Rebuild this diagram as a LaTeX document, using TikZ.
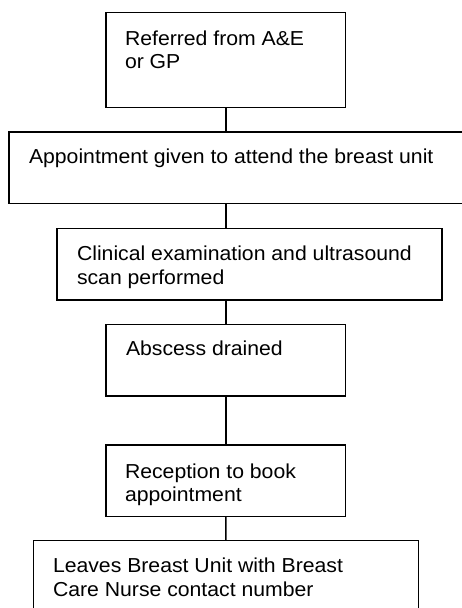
\documentclass[tikz,border=0pt]{standalone}
\usepackage{fontspec}
\setmainfont{Liberation Sans}[FakeStretch=1.05]
\begin{document}
\begin{tikzpicture}[x=1pt,y=-1pt,
  box/.style={draw, line width=1.4pt, inner sep=0pt, outer sep=0pt, anchor=north west},
  txt/.style={anchor=base west, inner sep=0pt, outer sep=0pt,
              font=\fontsize{20.2}{23.8}\selectfont},
  link/.style={line width=1.4pt}]
\useasboundingbox (0,0) rectangle (462,608);
\clip (0,0) rectangle (462,608);

% flow boxes (upper-left corner, width, height)
\node[box, minimum width=239.7pt, minimum height=95.4pt] (b1) at (106,12.3) {};
\node[box, minimum width=470pt,   minimum height=71.3pt] (b2) at (9,132) {};
\node[box, minimum width=385pt,   minimum height=71.5pt] (b3) at (57,228.5) {};
\node[box, minimum width=239.7pt, minimum height=71.5pt] (b4) at (106,324.5) {};
\node[box, minimum width=239.7pt, minimum height=71.7pt] (b5) at (106,445) {};
\node[box, minimum width=385pt,   minimum height=90pt]   (b6) at (33.3,540.5) {};

% box texts
\node[txt] (t1) at (125,45)    {\parbox[t]{300pt}{Referred from A\&E\\or GP}};
\node[txt] (t2) at (29,163.3)  {\parbox[t]{430pt}{Appointment given to attend the breast unit}};
\node[txt] (t3) at (77,260.3)  {\parbox[t]{380pt}{Clinical examination and ultrasound\\scan performed}};
\node[txt] (t4) at (126,355.3) {\parbox[t]{300pt}{Abscess drained}};
\node[txt] (t5) at (125,478)   {\parbox[t]{300pt}{Reception to book\\appointment}};
\node[txt] (t6) at (53,572.3)  {\parbox[t]{380pt}{Leaves Breast Unit with Breast\\Care Nurse contact number}};

% connectors
\draw[link] (b1.south) -- (b1.south |- b2.north);
\draw[link] (b1.south |- b2.south) -- (b1.south |- b3.north);
\draw[link] (b4.north |- b3.south) -- (b4.north);
\draw[link] (b4.south) -- (b5.north);
\draw[link] (b5.south) -- (b6.north);
\end{tikzpicture}
\end{document}
